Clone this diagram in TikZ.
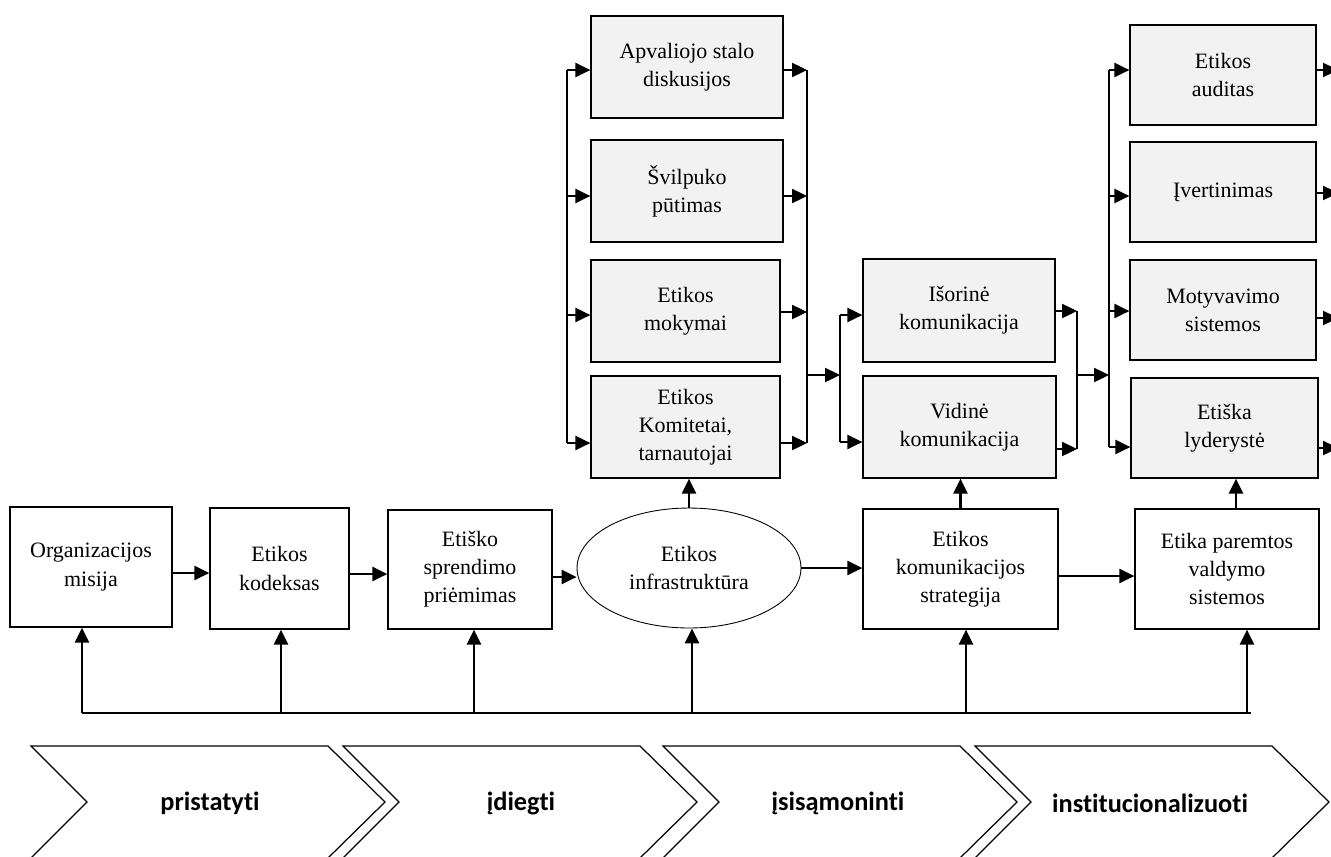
\documentclass[tikz,border=0pt]{standalone}
\usepackage{fontspec}
\setmainfont{Liberation Serif}
\newfontfamily\chevfont[Ligatures={NoCommon,NoContextual}]{Carlito}
\usetikzlibrary{arrows.meta,shapes.geometric}
\begin{document}
\begin{tikzpicture}[x=0.02cm,y=-0.02cm,
  txt/.style={font=\fontsize{12.5}{16}\selectfont, align=center},
  mainbox/.style={draw, line width=0.75pt, fill=white, inner sep=0pt, txt},
  subbox/.style={draw, line width=0.75pt, fill=black!5, inner sep=0pt, txt},
  arr/.style={line width=1.2pt, -{Triangle[length=8.5pt,width=8pt]}},
  sarr/.style={line width=1.1pt, -{Triangle[length=8.5pt,width=8pt]}},
  busline/.style={line width=0.8pt},
  chev/.style={draw, line width=0.7pt, line join=miter},
  chevtxt/.style={font=\chevfont\bfseries\fontsize{15}{18}\selectfont}]
\useasboundingbox (0,0) rectangle (1331,856);

% main row
\node[mainbox, minimum width=3.24cm, minimum height=2.4cm] (org) at (91,567) {Organizacijos\\misija};
\node[mainbox, minimum width=2.78cm, minimum height=2.42cm] (kod) at (279.5,568.5) {Etikos\\kodeksas};
\node[mainbox, minimum width=3.28cm, minimum height=2.38cm] (spr) at (470,569.5) {Etiško\\sprendimo\\priėmimas};
\node[ellipse, draw, line width=0.5pt, minimum width=4.48cm, minimum height=2.4cm, inner sep=0pt, txt] (inf) at (689,568) {Etikos\\infrastruktūra};
\node[mainbox, minimum width=3.9cm, minimum height=2.4cm] (kom) at (960.5,569) {Etikos\\komunikacijos\\strategija};
\node[mainbox, minimum width=3.68cm, minimum height=2.4cm] (val) at (1227,569) {Etika paremtos\\valdymo\\sistemos};

% column 1
\node[subbox, minimum width=3.84cm, minimum height=2.04cm] (a1) at (687,67) {Apvaliojo stalo\\diskusijos};
\node[subbox, minimum width=3.84cm, minimum height=2.04cm] (a2) at (687,191) {Švilpuko\\pūtimas};
\node[subbox, minimum width=3.78cm, minimum height=2.04cm] (a3) at (685.5,311) {Etikos\\mokymai};
\node[subbox, minimum width=3.78cm, minimum height=2.04cm] (a4) at (685.5,427) {Etikos\\Komitetai,\\tarnautojai};

% column 2
\node[subbox, minimum width=3.84cm, minimum height=2.06cm] (b1) at (959,310.5) {Išorinė\\komunikacija};
\node[subbox, minimum width=3.86cm, minimum height=2.04cm] (b2) at (959.5,427) {Vidinė\\komunikacija};

% column 3
\node[subbox, minimum width=3.72cm, minimum height=2.0cm] (c1) at (1223,75) {Etikos\\auditas};
\node[subbox, minimum width=3.72cm, minimum height=2.0cm] (c2) at (1223,192) {Įvertinimas};
\node[subbox, minimum width=3.72cm, minimum height=2.0cm] (c3) at (1223,310) {Motyvavimo\\sistemos};
\node[subbox, minimum width=3.74cm, minimum height=2.0cm] (c4) at (1224.5,428) {Etiška\\lyderystė};

% main row arrows
\draw[arr] (org.east |- 0,573) -- (kod.west |- 0,573);
\draw[arr] (kod.east |- 0,574) -- (spr.west |- 0,574);
\draw[arr] (spr.east |- 0,577) -- (inf.west |- 0,577);
\draw[arr] (inf.east) -- (inf.east -| kom.west);
\draw[arr] (kom.east |- 0,576) -- (val.west |- 0,576);

% up arrows to columns
\draw[arr] (inf.north) -- (inf.north |- a4.south);
\draw[arr] (kom.north) -- (kom.north |- b2.south);
\draw[arr] ([xshift=0.18cm]val.north) -- ([xshift=0.18cm]val.north |- c4.south);

% bottom bus
\coordinate (B1) at (82,713);
\coordinate (B2) at (281,713);
\coordinate (B3) at (474,713);
\coordinate (B4) at (692,713);
\coordinate (B5) at (966,713);
\coordinate (B6) at (1247,713);
\coordinate (Bend) at (1251,713);
\draw[busline, line width=1pt] (B1) -- (Bend);
\draw[arr] (B1) -- (B1 |- org.south);
\draw[arr] (B2) -- (B2 |- kod.south);
\draw[arr] (B3) -- (B3 |- spr.south);
\draw[arr] (B4) -- (B4 |- inf.south);
\draw[arr] (B5) -- (B5 |- kom.south);
\draw[arr] (B6) -- (B6 |- val.south);

% column 1 buses
\coordinate (La) at (567,70);
\coordinate (Lb) at (567,196);
\coordinate (Lc) at (567,315);
\coordinate (Ld) at (567,443);
\draw[busline] (La) -- (Ld);
\draw[sarr] (La) -- (La -| a1.west);
\draw[sarr] (Lb) -- (Lb -| a2.west);
\draw[sarr] (Lc) -- (Lc -| a3.west);
\draw[sarr] (Ld) -- (Ld -| a4.west);

\coordinate (Ra) at (807,70);
\coordinate (Rb) at (807,196);
\coordinate (Rc) at (807,312);
\coordinate (Rd) at (807,443);
\coordinate (Rm) at (807,375);
\draw[busline] (Ra) -- (Rd);
\draw[sarr] (Ra -| a1.east) -- (Ra);
\draw[sarr] (Rb -| a2.east) -- (Rb);
\draw[sarr] (Rc -| a3.east) -- (Rc);
\draw[sarr] (Rd -| a4.east) -- (Rd);

% column 2 buses
\coordinate (Ma) at (840,315);
\coordinate (Mb) at (840,442);
\coordinate (Mm) at (840,375);
\draw[sarr] (Rm) -- (Mm);
\draw[busline] (Ma) -- (Mb);
\draw[sarr] (Ma) -- (Ma -| b1.west);
\draw[sarr] (Mb) -- (Mb -| b2.west);

\coordinate (Na) at (1077,311);
\coordinate (Nb) at (1077,449);
\coordinate (Nm) at (1077,375);
\draw[busline] (Na) -- (Nb);
\draw[sarr] (Na -| b1.east) -- (Na);
\draw[sarr] (Nb -| b2.east) -- (Nb);

% column 3 buses
\coordinate (Pa) at (1109,70);
\coordinate (Pb) at (1109,196);
\coordinate (Pc) at (1109,311);
\coordinate (Pd) at (1109,447);
\coordinate (Pm) at (1109,375);
\draw[sarr] (Nm) -- (Pm);
\draw[busline] (Pa) -- (Pd);
\draw[sarr] (Pa) -- (Pa -| c1.west);
\draw[sarr] (Pb) -- (Pb -| c2.west);
\draw[sarr] (Pc) -- (Pc -| c3.west);
\draw[sarr] (Pd) -- (Pd -| c4.west);

\coordinate (Qa) at (1338,70);
\coordinate (Qb) at (1338,193);
\coordinate (Qc) at (1338,318);
\coordinate (Qd) at (1338,448);
\draw[sarr] (Qa -| c1.east) -- (Qa);
\draw[sarr] (Qb -| c2.east) -- (Qb);
\draw[sarr] (Qc -| c3.east) -- (Qc);
\draw[sarr] (Qd -| c4.east) -- (Qd);

% chevrons
\foreach \L in {31,343,663,975}{
  \draw[chev] (\L,746) -- (\L+297,746) -- (\L+354,802) -- (\L+297,858) -- (\L,858) -- (\L+56,802) -- cycle;
}
\node[chevtxt] (p1) at (210,803) {pristatyti};
\node[chevtxt] (p2) at (521,803) {įdiegti};
\node[chevtxt] (p3) at (838,803) {įsisąmoninti};
\node[chevtxt] (p4) at (1150,803) {institucionalizuoti};
\end{tikzpicture}
\end{document}
